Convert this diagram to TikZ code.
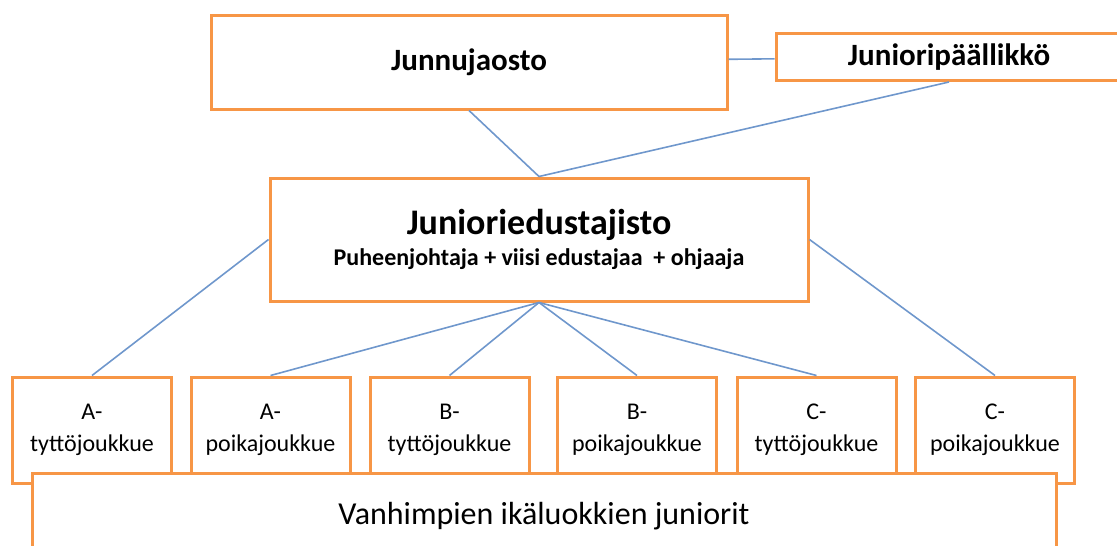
\documentclass[tikz,border=0pt]{standalone}
\usepackage{fontspec}
\setmainfont{Carlito}
\definecolor{boxorange}{HTML}{F79646}
\definecolor{linkblue}{HTML}{6F97CC}
\begin{document}
\begin{tikzpicture}[x=1pt,y=-1pt,
    box/.style={draw=boxorange,line width=3pt,fill=white,rectangle,inner sep=0pt},
    team/.style={box,minimum width=159pt,minimum height=106pt,align=center,
      font=\fontsize{24}{32}\selectfont},
    link/.style={draw=linkblue,line width=1.6pt}]
  \useasboundingbox (0,0) rectangle (1117,546);
  \node[box,minimum width=516pt,minimum height=94pt,
    font=\bfseries\fontsize{31}{36}\selectfont] (jaosto) at (469,62) {Junnujaosto};
  \node[box,minimum width=346pt,minimum height=47pt,
    font=\bfseries\fontsize{31}{36}\selectfont] (paallikko) at (949,57) {Junioripäällikkö};
  \node[box,minimum width=538pt,minimum height=123pt,align=center] (edustajisto) at (539,239.5)
    {{\bfseries\fontsize{36}{40}\selectfont Junioriedustajisto}\\[7pt]
     {\bfseries\fontsize{24}{28}\selectfont Puheenjohtaja + viisi edustajaa \ + ohjaaja}};
  \node[team] (at) at (92,430) {A-\\tyttöjoukkue};
  \node[team] (ap) at (270.5,430) {A-\\poikajoukkue};
  \node[team] (bt) at (449.5,430) {B-\\tyttöjoukkue};
  \node[team] (bp) at (637,430) {B-\\poikajoukkue};
  \node[team] (ct) at (816.5,430) {C-\\tyttöjoukkue};
  \node[team] (cp) at (995,430) {C-\\poikajoukkue};
  \node[box,minimum width=1024pt,minimum height=87pt,
    font=\fontsize{32}{38}\selectfont] (vanhat) at (544,516.5) {Vanhimpien ikäluokkien juniorit};
  \begin{scope}[link]
    \draw (jaosto) to (paallikko);
    \draw (jaosto.south) to (edustajisto.north);
    \draw (paallikko.south) to (edustajisto.north);
    \draw (edustajisto.west) to (at.north);
    \draw (edustajisto.south) to (ap.north);
    \draw (edustajisto.south) to (bt.north);
    \draw (edustajisto.south) to (bp.north);
    \draw (edustajisto.south) to (ct.north);
    \draw (edustajisto.east) to (cp.north);
  \end{scope}
\end{tikzpicture}
\end{document}
